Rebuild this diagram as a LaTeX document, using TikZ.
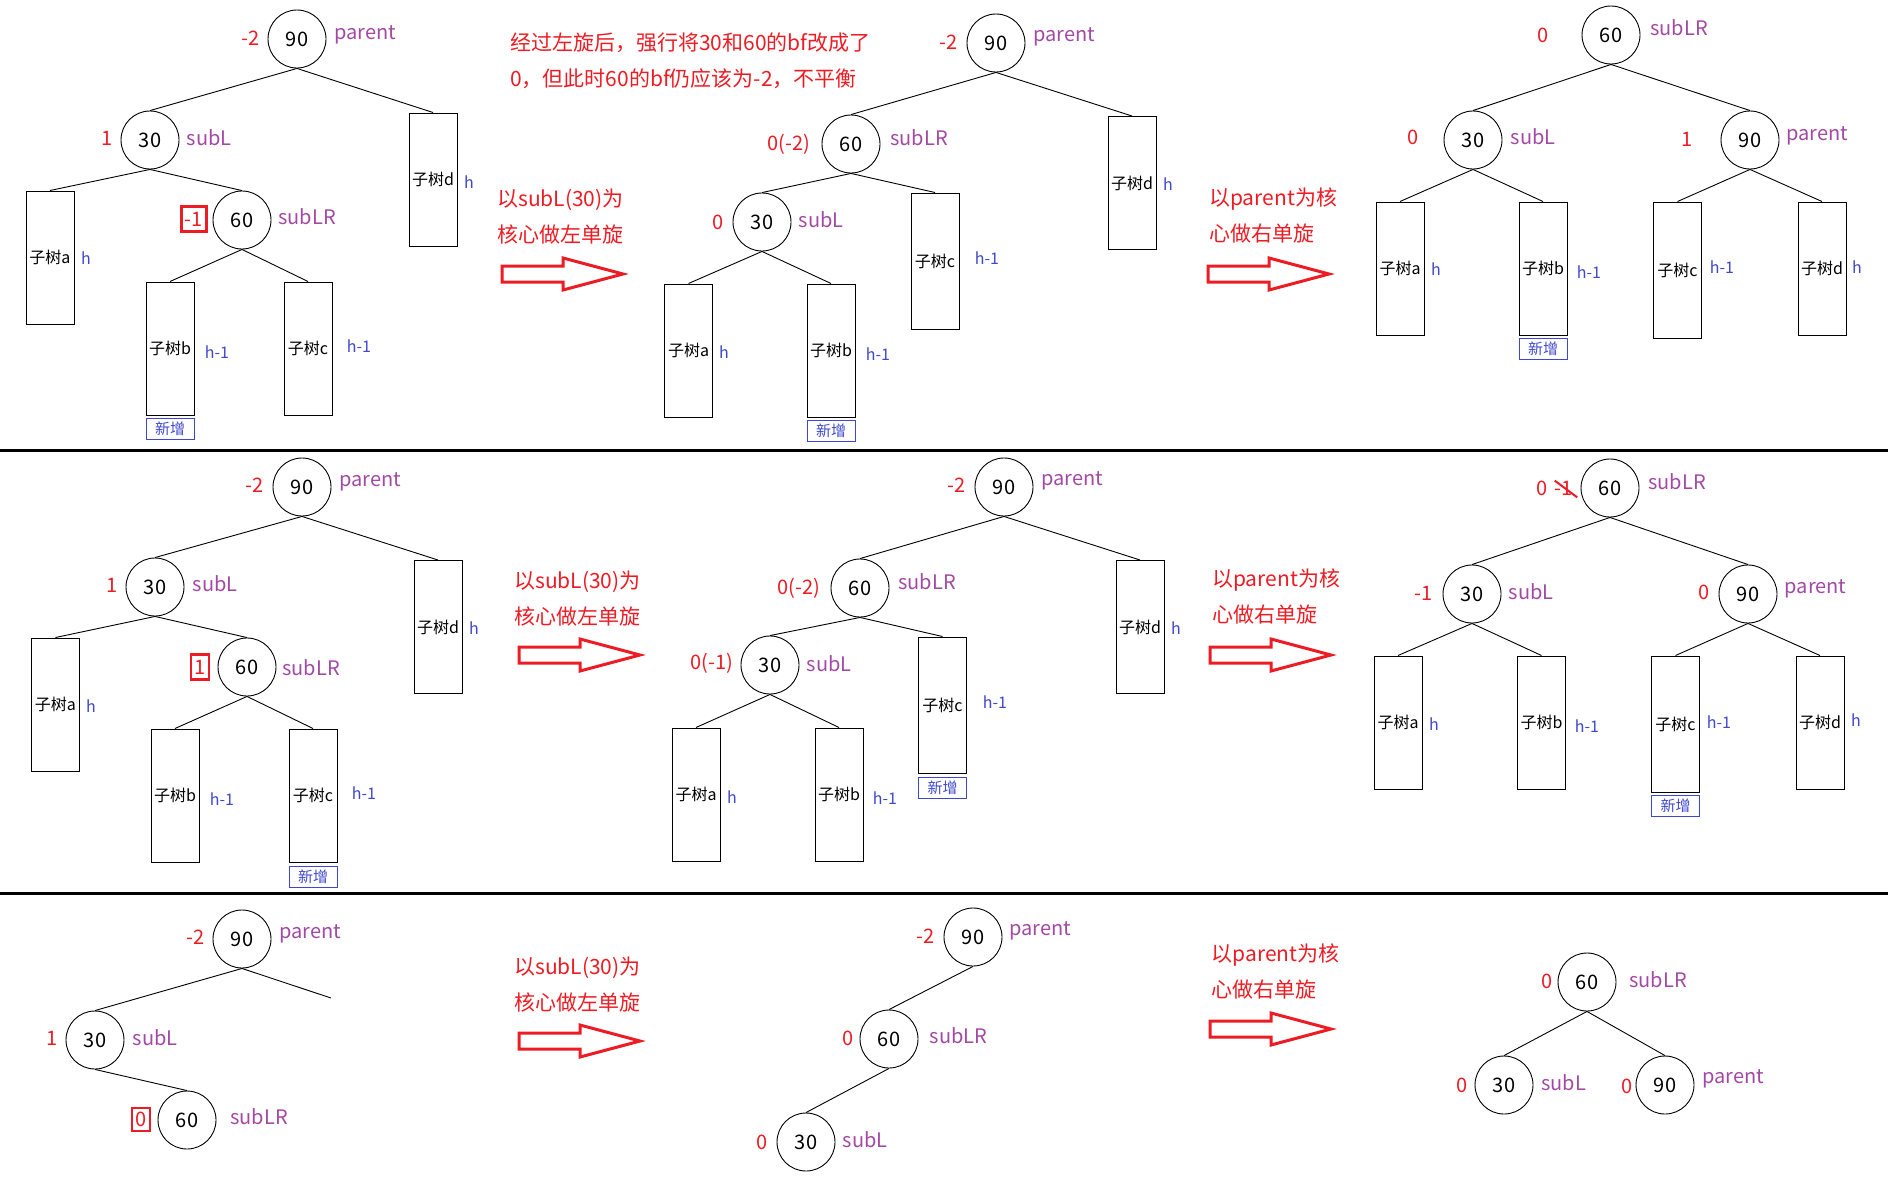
\documentclass[tikz,border=0pt]{standalone}
\usepackage{fontspec}
\setmainfont{Noto Sans CJK SC}
\usetikzlibrary{positioning}
\definecolor{bfred}{HTML}{ED1C24}
\definecolor{rolepurple}{HTML}{A349A4}
\definecolor{htblue}{HTML}{3F48CC}
\newcommand{\fs}[1]{\fontsize{#1}{#1}\selectfont}
% outlined block arrow between two steps
\newcommand{\turnarrow}[2]{%
  \draw[turnarrow, shift={(#1,#2)}] (0,-8) -- (61,-8) -- (61,-16) -- (121,0)
    -- (61,16) -- (61,8) -- (0,8) -- cycle;}

\begin{document}
\begin{tikzpicture}[
    x=1pt, y=-1pt,
    keynode/.style={draw, circle, minimum size=58pt, inner sep=0pt, line width=0.9pt, font=\fs{20}},
    subtree/.style={draw, minimum width=48pt, minimum height=133pt, inner sep=0pt, line width=1pt, font=\fs{16}},
    bfval/.style={text=bfred, inner sep=0pt, font=\fs{20}},
    redbox/.style={draw=bfred, line width=2.6pt, inner sep=3.5pt, minimum height=25pt},
    rolename/.style={text=rolepurple, inner sep=0pt, font=\fs{20}},
    htlabel/.style={text=htblue, inner sep=0pt, font=\fs{16}},
    newtag/.style={draw=htblue, text=htblue, minimum width=48pt, minimum height=21pt, inner sep=0pt, line width=1pt, font=\fs{15}},
    remark/.style={text=bfred, align=left, inner sep=0pt, anchor=west, font=\fontsize{21}{36}\selectfont},
    turnarrow/.style={draw=bfred, line width=3pt, line join=miter},
    branch/.style={line width=0.9pt},
    strike/.style={draw=bfred, line width=2pt}
  ]
  \useasboundingbox (0,0) rectangle (1888,1178);

  % ---- row 1: before, after left rotation, after right rotation
  \node[keynode] (A90) at (297,39) {90};
  \node[bfval] (A90bf) at (251,38) {-2};
  \node[rolename] (A90r) at (365,35) {parent};
  \node[keynode] (A30) at (150,140) {30};
  \node[bfval] (A30bf) at (107,138) {1};
  \node[rolename] (A30r) at (209,138) {subL};
  \node[keynode] (A60) at (242,220) {60};
  \node[bfval, redbox] (A60bf) at (194,219) {-1};
  \node[rolename] (A60r) at (307,217) {subLR};
  \node[subtree] (Aa) at (50,257.5) {子树a};
  \node[htlabel] (Aah) at (86,258) {h};
  \node[subtree] (Ab) at (170,348.5) {子树b};
  \node[htlabel] (Abh) at (217,352) {h-1};
  \node[newtag, below=2pt of Ab] (Abn) {新增};
  \node[subtree] (Ac) at (308,348.5) {子树c};
  \node[htlabel] (Ach) at (359,346) {h-1};
  \node[subtree] (Ad) at (433,179.5) {子树d};
  \node[htlabel] (Adh) at (469,182) {h};
  \draw[branch] (A90.south) -- (A30.north);
  \draw[branch] (A90.south) -- (Ad.north);
  \draw[branch] (A30.south) -- (Aa.north);
  \draw[branch] (A30.south) -- (A60.north);
  \draw[branch] (A60.south) -- (Ab.north);
  \draw[branch] (A60.south) -- (Ac.north);

  \node[remark] (topnote) at (510,60.5) {经过左旋后，强行将30和60的bf改成了\\0，但此时60的bf仍应该为-2，不平衡};
  \node[remark] (stepA) at (497,217) {以subL(30)为\\核心做左单旋};
  \turnarrow{502}{274}

  \node[keynode] (B90) at (996,43) {90};
  \node[bfval] (B90bf) at (949,42) {-2};
  \node[rolename] (B90r) at (1064,37) {parent};
  \node[keynode] (B60) at (851,144) {60};
  \node[bfval] (B60bf) at (789,144) {0(-2)};
  \node[rolename] (B60r) at (919,138) {subLR};
  \node[keynode] (B30) at (762,222) {30};
  \node[bfval] (B30bf) at (718,222) {0};
  \node[rolename] (B30r) at (821,220) {subL};
  \node[subtree] (Ba) at (688.5,350.5) {子树a};
  \node[htlabel] (Bah) at (724,352) {h};
  \node[subtree] (Bb) at (831,350.5) {子树b};
  \node[htlabel] (Bbh) at (878,354) {h-1};
  \node[newtag, below=2pt of Bb] (Bbn) {新增};
  \node[subtree, minimum height=136pt] (Bc) at (935,261) {子树c};
  \node[htlabel] (Bch) at (987,258) {h-1};
  \node[subtree] (Bd) at (1132,183) {子树d};
  \node[htlabel] (Bdh) at (1168,184) {h};
  \draw[branch] (B90.south) -- (B60.north);
  \draw[branch] (B90.south) -- (Bd.north);
  \draw[branch] (B60.south) -- (B30.north);
  \draw[branch] (B60.south) -- (Bc.north);
  \draw[branch] (B30.south) -- (Ba.north);
  \draw[branch] (B30.south) -- (Bb.north);

  \node[remark] (stepB) at (1209,215.5) {以parent为核\\心做右单旋};
  \turnarrow{1208}{274}

  \node[keynode] (C60) at (1611,35) {60};
  \node[bfval] (C60bf) at (1543,35) {0};
  \node[rolename] (C60r) at (1679,28) {subLR};
  \node[keynode] (C30) at (1473,140) {30};
  \node[bfval] (C30bf) at (1413,137) {0};
  \node[rolename] (C30r) at (1533,137) {subL};
  \node[keynode] (C90) at (1750,140) {90};
  \node[bfval] (C90bf) at (1687,139) {1};
  \node[rolename] (C90r) at (1817,136) {parent};
  \node[subtree] (Ca) at (1400,268.5) {子树a};
  \node[htlabel] (Cah) at (1436,269) {h};
  \node[subtree] (Cb) at (1543,268.5) {子树b};
  \node[htlabel] (Cbh) at (1589,272) {h-1};
  \node[newtag, below=2pt of Cb] (Cbn) {新增};
  \node[subtree, minimum height=136pt] (Cc) at (1677.5,270) {子树c};
  \node[htlabel] (Cch) at (1722,267) {h-1};
  \node[subtree] (Cd) at (1822,268.5) {子树d};
  \node[htlabel] (Cdh) at (1857,267) {h};
  \draw[branch] (C60.south) -- (C30.north);
  \draw[branch] (C60.south) -- (C90.north);
  \draw[branch] (C30.south) -- (Ca.north);
  \draw[branch] (C30.south) -- (Cb.north);
  \draw[branch] (C90.south) -- (Cc.north);
  \draw[branch] (C90.south) -- (Cd.north);

  \draw[line width=3pt] (0,450) -- (1888,450);
  \draw[line width=3pt] (0,893) -- (1888,893);

  % ---- row 2: new node in subtree c
  \node[keynode] (D90) at (302,487) {90};
  \node[bfval] (D90bf) at (255,485) {-2};
  \node[rolename] (D90r) at (370,482) {parent};
  \node[keynode] (D30) at (155,587) {30};
  \node[bfval] (D30bf) at (112,585) {1};
  \node[rolename] (D30r) at (215,584) {subL};
  \node[keynode] (D60) at (247,667) {60};
  \node[bfval, redbox] (D60bf) at (200,667) {1};
  \node[rolename] (D60r) at (311,668) {subLR};
  \node[subtree] (Da) at (55.5,704.5) {子树a};
  \node[htlabel] (Dah) at (91,706) {h};
  \node[subtree] (Db) at (175,795.5) {子树b};
  \node[htlabel] (Dbh) at (222,799) {h-1};
  \node[subtree] (Dc) at (313,795.5) {子树c};
  \node[htlabel] (Dch) at (364,793) {h-1};
  \node[newtag, below=3pt of Dc] (Dcn) {新增};
  \node[subtree] (Dd) at (438,627) {子树d};
  \node[htlabel] (Ddh) at (474,628) {h};
  \draw[branch] (D90.south) -- (D30.north);
  \draw[branch] (D90.south) -- (Dd.north);
  \draw[branch] (D30.south) -- (Da.north);
  \draw[branch] (D30.south) -- (D60.north);
  \draw[branch] (D60.south) -- (Db.north);
  \draw[branch] (D60.south) -- (Dc.north);

  \node[remark] (stepD) at (514,598.5) {以subL(30)为\\核心做左单旋};
  \turnarrow{519}{655}

  \node[keynode] (E90) at (1004,487) {90};
  \node[bfval] (E90bf) at (957,485) {-2};
  \node[rolename] (E90r) at (1072,481) {parent};
  \node[keynode] (E60) at (860,588) {60};
  \node[bfval] (E60bf) at (799,588) {0(-2)};
  \node[rolename] (E60r) at (927,582) {subLR};
  \node[keynode] (E30) at (770,665) {30};
  \node[bfval] (E30bf) at (712,663) {0(-1)};
  \node[rolename] (E30r) at (829,664) {subL};
  \node[subtree] (Ea) at (696,794.5) {子树a};
  \node[htlabel] (Eah) at (732,797) {h};
  \node[subtree] (Eb) at (839,794.5) {子树b};
  \node[htlabel] (Ebh) at (885,798) {h-1};
  \node[subtree, minimum height=136pt] (Ec) at (942.5,705) {子树c};
  \node[htlabel] (Ech) at (995,702) {h-1};
  \node[newtag, below=3pt of Ec] (Ecn) {新增};
  \node[subtree] (Ed) at (1140,627) {子树d};
  \node[htlabel] (Edh) at (1176,628) {h};
  \draw[branch] (E90.south) -- (E60.north);
  \draw[branch] (E90.south) -- (Ed.north);
  \draw[branch] (E60.south) -- (E30.north);
  \draw[branch] (E60.south) -- (Ec.north);
  \draw[branch] (E30.south) -- (Ea.north);
  \draw[branch] (E30.south) -- (Eb.north);

  \node[remark] (stepE) at (1212,596.5) {以parent为核\\心做右单旋};
  \turnarrow{1210}{655}

  \node[keynode] (F60) at (1610,488) {60};
  \node[bfval] (F60bf) at (1542,488) {0};
  \node[bfval] (F60old) at (1564,488) {-1};
  \draw[strike] (F60old.north west) -- ([xshift=4pt,yshift=-2pt]F60old.south east);
  \node[rolename] (F60r) at (1677,482) {subLR};
  \node[keynode] (F30) at (1472,594) {30};
  \node[bfval] (F30bf) at (1424,593) {-1};
  \node[rolename] (F30r) at (1531,592) {subL};
  \node[keynode] (F90) at (1748,594) {90};
  \node[bfval] (F90bf) at (1704,592) {0};
  \node[rolename] (F90r) at (1815.5,589) {parent};
  \node[subtree] (Fa) at (1398,722.5) {子树a};
  \node[htlabel] (Fah) at (1434,724) {h};
  \node[subtree] (Fb) at (1541.5,722.5) {子树b};
  \node[htlabel] (Fbh) at (1587,726) {h-1};
  \node[subtree, minimum height=136pt] (Fc) at (1675.5,724) {子树c};
  \node[htlabel] (Fch) at (1719,722) {h-1};
  \node[newtag, below=2pt of Fc] (Fcn) {新增};
  \node[subtree] (Fd) at (1820,722.5) {子树d};
  \node[htlabel] (Fdh) at (1856,720) {h};
  \draw[branch] (F60.south) -- (F30.north);
  \draw[branch] (F60.south) -- (F90.north);
  \draw[branch] (F30.south) -- (Fa.north);
  \draw[branch] (F30.south) -- (Fb.north);
  \draw[branch] (F90.south) -- (Fc.north);
  \draw[branch] (F90.south) -- (Fd.north);

  % ---- row 3: subLR itself is the new node
  \node[keynode] (G90) at (242,939) {90};
  \node[bfval] (G90bf) at (196,937) {-2};
  \node[rolename] (G90r) at (310.5,934) {parent};
  \coordinate (Gright) at (331,998);
  \node[keynode] (G30) at (95,1040) {30};
  \node[bfval] (G30bf) at (52,1038) {1};
  \node[rolename] (G30r) at (155,1038) {subL};
  \node[keynode] (G60) at (187,1120) {60};
  \node[bfval, redbox, minimum height=23pt] (G60bf) at (141,1119.5) {0};
  \node[rolename] (G60r) at (259,1117) {subLR};
  \draw[branch] (G90.south) -- (G30.north);
  \draw[branch] (G90.south) -- (Gright);
  \draw[branch] (G30.south) -- (G60.north);

  \node[remark] (stepG) at (514,984.5) {以subL(30)为\\核心做左单旋};
  \turnarrow{519}{1041}

  \node[keynode] (H90) at (973,937) {90};
  \node[bfval] (H90bf) at (926,936) {-2};
  \node[rolename] (H90r) at (1040,931) {parent};
  \node[keynode] (H60) at (889,1039) {60};
  \node[bfval] (H60bf) at (848,1038) {0};
  \node[rolename] (H60r) at (958.5,1035.5) {subLR};
  \node[keynode] (H30) at (806,1142) {30};
  \node[bfval] (H30bf) at (762,1142) {0};
  \node[rolename] (H30r) at (865,1140) {subL};
  \draw[branch] (H90.south) -- (H60.north);
  \draw[branch] (H60.south) -- (H30.north);

  \node[remark] (stepH) at (1211.5,971) {以parent为核\\心做右单旋};
  \turnarrow{1210}{1029}

  \node[keynode] (I60) at (1587,982) {60};
  \node[bfval] (I60bf) at (1547.5,981) {0};
  \node[rolename] (I60r) at (1658,980) {subLR};
  \node[keynode] (I30) at (1504,1085) {30};
  \node[bfval] (I30bf) at (1462,1085) {0};
  \node[rolename] (I30r) at (1563.5,1083) {subL};
  \node[keynode] (I90) at (1665,1085) {90};
  \node[bfval] (I90bf) at (1627,1086) {0};
  \node[rolename] (I90r) at (1733,1079) {parent};
  \draw[branch] (I60.south) -- (I30.north);
  \draw[branch] (I60.south) -- (I90.north);
\end{tikzpicture}
\end{document}
